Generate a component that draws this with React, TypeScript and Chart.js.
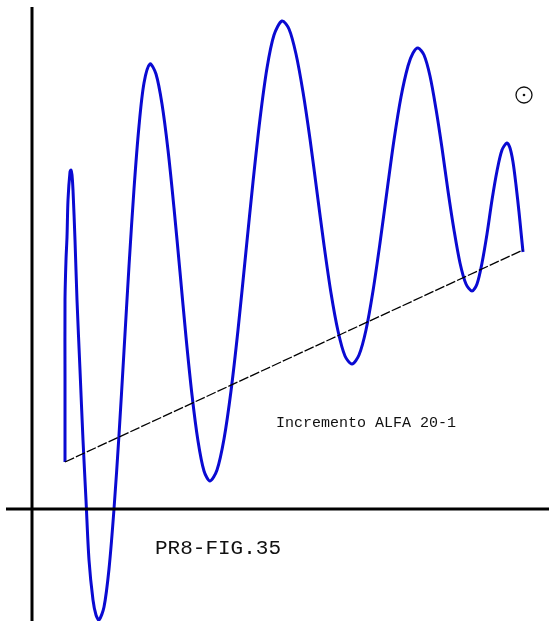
import { useEffect, useRef } from "react";
import { Chart, registerables } from "chart.js";
Chart.register(...registerables);

// Oscillating response (units: offset from the axes origin)
const curveX = [33, 33, 33, 34, 35, 36, 38, 39, 40, 41, 43, 45, 48, 51, 54, 57, 61, 64, 67,
  72, 77, 82, 87, 92, 97, 102, 107, 112, 118,
  124, 130, 136, 142, 148, 154, 160, 166, 172, 178,
  185, 192, 199, 206, 214, 221, 228, 235, 242, 250,
  257, 264, 271, 278, 285, 292, 299, 306, 313, 320,
  327, 334, 341, 348, 355, 362, 369, 376, 381, 386,
  392, 398, 404, 410, 416, 422, 428, 434, 440,
  445, 450, 455, 460, 465, 470, 475,
  478, 481, 484, 487, 489, 491];
const curveY = [47, 129, 209, 249, 272, 309, 337, 339, 334, 319, 269, 209, 139, 69, 9, -51, -91, -106, -111,
  -98, -60, 0, 74, 158, 243, 320, 383, 426, 445,
  435, 405, 359, 301, 237, 172, 114, 68, 38, 28,
  39, 70, 118, 179, 258, 327, 390, 441, 474, 488,
  480, 455, 417, 370, 317, 264, 216, 178, 153, 145,
  154, 179, 218, 266, 318, 369, 412, 443, 456, 461,
  454, 433, 400, 361, 318, 279, 246, 225, 218,
  225, 246, 275, 309, 338, 359, 366,
  361, 347, 324, 297, 277, 257];

// Linear trend
const trendX = [33, 491];
const trendY = [47, 259];

// Axes lines
const vAxisX = [0, 0];
const vAxisY = [502, -112];
const hAxisX = [-26, 517];
const hAxisY = [0, 0];

// Marker ⊙
const markerX = [492];
const markerY = [414];

// Text labels
const labelTexts = ["Incremento ALFA 20-1", "PR8-FIG.35"];
const labelX = [244, 123];
const labelY = [86, -39];
const labelSizes = [15, 21];

const zip = (xs: number[], ys: number[]) => xs.map((x, i) => ({ x, y: ys[i] }));

const textPlugin = {
  id: "texts",
  afterDatasetsDraw(chart: any) {
    const { ctx, scales } = chart;
    ctx.save();
    ctx.fillStyle = "#111";
    ctx.textAlign = "left";
    ctx.textBaseline = "middle";
    labelTexts.forEach((t, i) => {
      ctx.font = `${labelSizes[i]}px "Liberation Mono", "DejaVu Sans Mono", monospace`;
      ctx.fillText(t, scales.x.getPixelForValue(labelX[i]), scales.y.getPixelForValue(labelY[i]));
    });
    ctx.restore();
  },
};

export default function App() {
  const ref = useRef<HTMLCanvasElement>(null);
  useEffect(() => {
    if (!ref.current) return;
    const chart = new Chart(ref.current, {
      type: "scatter",
      data: {
        datasets: [
          {
            data: zip(vAxisX, vAxisY),
            showLine: true,
            borderColor: "#000",
            borderWidth: 3,
            pointRadius: 0,
            clip: false,
          } as any,
          {
            data: zip(hAxisX, hAxisY),
            showLine: true,
            borderColor: "#000",
            borderWidth: 3,
            pointRadius: 0,
            clip: false,
          },
          {
            data: zip(trendX, trendY),
            showLine: true,
            borderColor: "#000",
            borderWidth: 1.3,
            borderDash: [10, 2],
            pointRadius: 0,
            clip: false,
          },
          {
            data: zip(curveX, curveY),
            showLine: true,
            borderColor: "#0a0ad2",
            borderWidth: 3,
            pointRadius: 0,
            tension: 0.3,
            clip: false,
          },
          {
            data: zip(markerX, markerY),
            showLine: false,
            pointRadius: 8,
            pointBorderWidth: 1.3,
            pointBorderColor: "#111",
            pointBackgroundColor: "rgba(255,255,255,0)",
            clip: false,
          },
          {
            data: zip(markerX, markerY),
            showLine: false,
            pointRadius: 1.3,
            pointBorderWidth: 0,
            pointBackgroundColor: "#111",
            clip: false,
          },
        ],
      },
      options: {
        animation: false,
        responsive: false,
        maintainAspectRatio: false,
        layout: { padding: 0, autoPadding: false },
        plugins: { legend: { display: false }, tooltip: { enabled: false } },
        scales: {
          x: { type: "linear", min: -32, max: 517, display: false },
          y: { type: "linear", min: -112, max: 509, display: false },
        },
      },
      plugins: [textPlugin],
    });
    return () => chart.destroy();
  }, []);
  return (
    <div style={{ position: "fixed", left: 0, top: 0, width: 549, height: 621, background: "#fff" }}>
      <canvas ref={ref} width={549} height={621} style={{ display: "block" }} />
    </div>
  );
}
